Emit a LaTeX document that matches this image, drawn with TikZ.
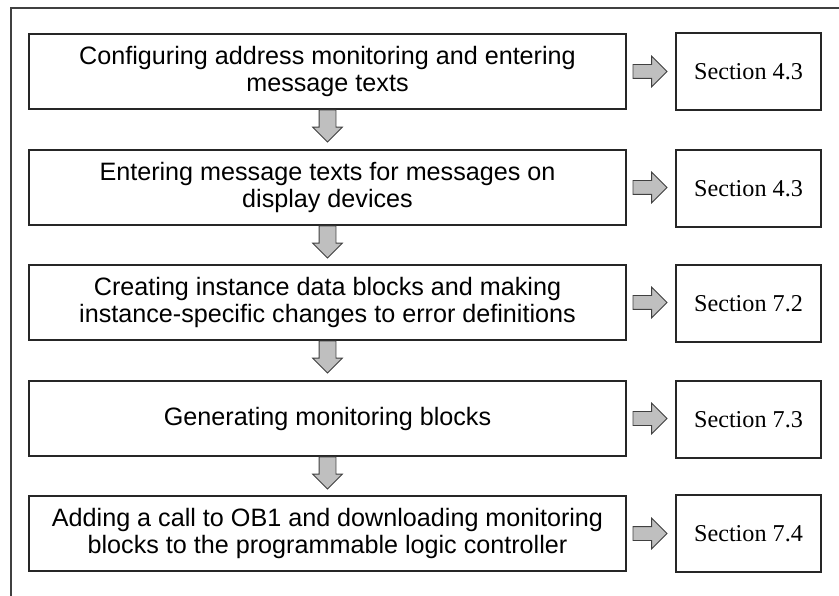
\documentclass[tikz,border=0pt]{standalone}
\usepackage{fontspec}
\setmainfont{Liberation Sans}
\newfontfamily\secfont{Liberation Serif}
\usetikzlibrary{shapes.arrows,positioning}

\begin{document}
\begin{tikzpicture}[
    stepbox/.style={draw=black!85, line width=0.9pt, minimum width=14.925cm, minimum height=1.875cm, align=center, font=\fontsize{17.9}{18.8}\selectfont},
    secbox/.style={draw=black!85, line width=0.9pt, minimum width=3.625cm, minimum height=1.925cm, font=\secfont\fontsize{17.2}{20}\selectfont},
    rarr/.style={single arrow, draw=black!75, fill=black!25, line width=0.6pt, inner xsep=0pt, inner ysep=0.1625cm, single arrow head extend=0.2125cm, minimum height=0.85cm},
    darr/.style={single arrow, draw=black!75, fill=black!25, line width=0.6pt, inner xsep=0pt, inner ysep=0.2cm, single arrow head extend=0.1625cm, minimum height=0.8cm, rotate=-90, anchor=tail},
    frame/.style={draw=black!75, line width=1.1pt}
]
\useasboundingbox (0,0) rectangle (20.975,-14.9);
\draw[frame] (20.975,-0.2) -- (0.275,-0.2) -- (0.275,-14.9);

\node[stepbox] (m1) at (8.1875,-1.7875) {Configuring address monitoring and entering\\message texts};
\node[stepbox] (m2) at (8.1875,-4.6875) {Entering message texts for messages on\\display devices};
\node[stepbox] (m3) at (8.1875,-7.5625) {Creating instance data blocks and making\\instance-specific changes to error definitions};
\node[stepbox] (m4) at (8.1875,-10.4625) {Generating monitoring blocks};
\node[stepbox] (m5) at (8.1875,-13.3375) {Adding a call to OB1 and downloading monitoring\\blocks to the programmable logic controller};

\node[secbox] (s1) at (18.7125,-1.7875) {Section 4.3};
\node[secbox] (s2) at (18.7125,-4.7125) {Section 4.3};
\node[secbox] (s3) at (18.7125,-7.5875) {Section 7.2};
\node[secbox] (s4) at (18.7125,-10.4875) {Section 7.3};
\node[secbox] (s5) at (18.7125,-13.3375) {Section 7.4};

\node[rarr, right=0.15cm of m1] (r1) {};
\node[rarr, right=0.15cm of m2] (r2) {};
\node[rarr, right=0.15cm of m3] (r3) {};
\node[rarr, right=0.15cm of m4] (r4) {};
\node[rarr, right=0.15cm of m5] (r5) {};

\node[darr] (d1) at (m1.south) {};
\node[darr] (d2) at (m2.south) {};
\node[darr] (d3) at (m3.south) {};
\node[darr] (d4) at (m4.south) {};
\end{tikzpicture}
\end{document}
